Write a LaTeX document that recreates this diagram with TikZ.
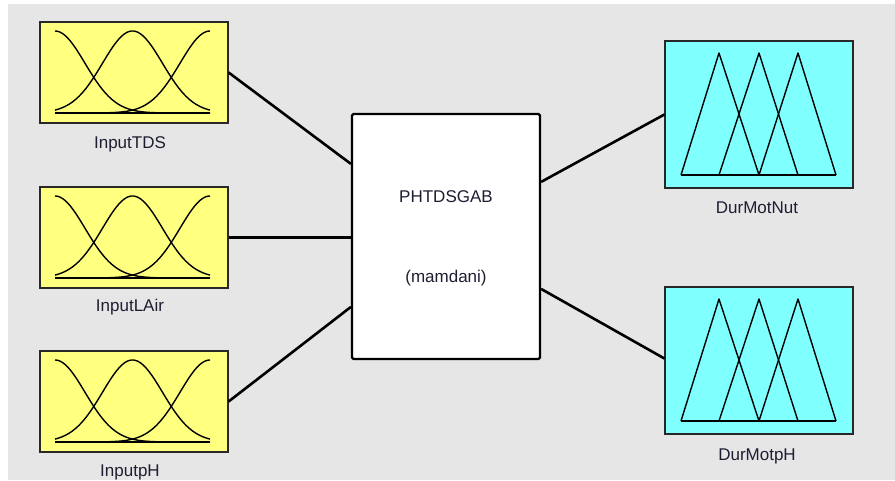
\documentclass[tikz,border=0pt]{standalone}
\usepackage{fontspec}
\setmainfont{Liberation Sans}
\usetikzlibrary{calc}
\definecolor{bg}{RGB}{230,230,230}
\definecolor{mfyellow}{RGB}{255,255,128}
\definecolor{mfcyan}{RGB}{128,255,255}
\definecolor{frame}{RGB}{40,40,40}
\definecolor{txt}{RGB}{30,30,50}
\tikzset{
  inbox/.style={draw=frame, line width=1.2pt, fill=mfyellow, minimum width=188pt, minimum height=101pt, inner sep=0pt},
  outbox/.style={draw=frame, line width=1.2pt, fill=mfcyan, minimum width=188pt, minimum height=147pt, inner sep=0pt},
  fisbox/.style={draw=black, line width=2.2pt, fill=white, rounded corners=1.5pt, minimum width=188pt, minimum height=245pt, inner sep=0pt},
  lbl/.style={text=txt, font=\fontsize{17}{20}\selectfont, inner sep=0pt},
  conn/.style={draw=black, line width=2.6pt},
  mf/.style={draw=black, line width=1.4pt},
}
\begin{document}
\begin{tikzpicture}[x=1pt, y=-1pt]
\useasboundingbox (0,0) rectangle (895,480);
\fill[white] (0,0) rectangle (895,480);
\fill[bg] (8,4) rectangle (895,480);

% input boxes
\node[inbox] (in1) at (134,72.5) {};
\node[inbox] (in2) at (134,237.5) {};
\node[inbox] (in3) at (134,401.5) {};
\node[lbl] (l1) at (130,144) {InputTDS};
\node[lbl] (l2) at (130,307) {InputLAir};
\node[lbl] (l3) at (130,472) {InputpH};

% gaussian membership functions
\foreach \t in {22,187,351}{
  \pgfmathsetmacro{\base}{\t+91}
  \draw[mf] plot[domain=55:210, samples=80, smooth] (\x, {\base - 82*exp(-0.5*((\x-55)/30)^2)});
  \draw[mf] plot[domain=55:210, samples=80, smooth] (\x, {\base - 82*exp(-0.5*((\x-132.5)/30)^2)});
  \draw[mf] plot[domain=55:210, samples=80, smooth] (\x, {\base - 82*exp(-0.5*((\x-210)/30)^2)});
  \draw[mf] (55,\base) -- (210,\base);
}

% center FIS box
\node[fisbox] (fis) at (446,236.5) {};
\node[lbl] (fisname) at (446,197) {PHTDSGAB};
\node[lbl] (fistype) at (446,278) {(mamdani)};

% output boxes
\node[outbox] (out1) at (759,114.5) {};
\node[outbox] (out2) at (759,360.5) {};
\node[lbl] (o1) at (757,208) {DurMotNut};
\node[lbl] (o2) at (757,456) {DurMotpH};

% triangular membership functions
\foreach \t in {41,287}{
  \pgfmathsetmacro{\base}{\t+134}
  \pgfmathsetmacro{\apex}{\t+12}
  \draw[mf, line join=round] (681,\base) -- (719,\apex) -- (759,\base);
  \draw[mf, line join=round] (719,\base) -- (759,\apex) -- (798,\base);
  \draw[mf, line join=round] (759,\base) -- (798,\apex) -- (836,\base);
  \draw[mf] (681,\base) -- (836,\base);
}

% connectors
\coordinate (fi1) at ($(fis.north west)+(0,51)$);
\coordinate (fi3) at ($(fis.north west)+(0,194)$);
\coordinate (fo1) at ($(fis.north east)+(0,69)$);
\coordinate (fo2) at ($(fis.north east)+(0,176)$);
\draw[conn] (in1.east) -- (fi1);
\draw[conn] (in2.east) -- (fis.west |- in2.east);
\draw[conn] (in3.east) -- (fi3);
\draw[conn] (fo1) -- (out1.west);
\draw[conn] (fo2) -- ($(out2.west)+(0,-2)$);
\end{tikzpicture}
\end{document}
